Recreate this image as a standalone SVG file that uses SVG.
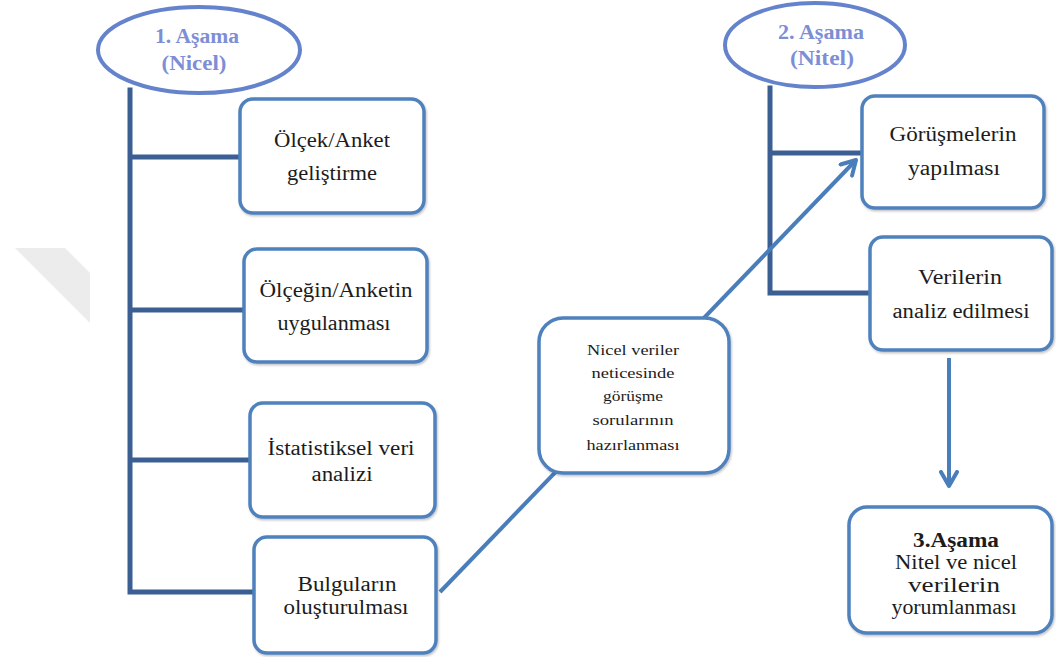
<svg xmlns="http://www.w3.org/2000/svg" width="1056" height="657" viewBox="0 0 1056 657" font-family="'Liberation Serif', 'DejaVu Serif', serif">
  <defs>
    <style>
      .box { fill: #ffffff; stroke: #4f81bd; stroke-width: 3.5; filter: url(#shadow); }
      .oval { fill: #ffffff; stroke: #6483cc; stroke-width: 4; }
      .trunk { fill: none; stroke: #3b5f93; stroke-width: 5; stroke-linejoin: miter; stroke-linecap: square; }
      .flow { fill: none; stroke: #4a7ebb; stroke-width: 4; }
      text { font-family: 'Liberation Serif', 'DejaVu Serif', serif; }
      .t { font-size: 20px; fill: #1c1c1c; text-anchor: middle; }
      .ts { font-size: 15px; fill: #1c1c1c; text-anchor: middle; }
      .tb { font-weight: bold; }
      .phase { font-size: 20px; font-weight: bold; fill: #7d8ed6; text-anchor: middle; }
    </style>
    <filter id="shadow" x="-10%" y="-10%" width="120%" height="120%">
      <feDropShadow dx="1" dy="1.5" stdDeviation="1.2" flood-color="#000000" flood-opacity="0.25"/>
    </filter>
    <marker id="head" viewBox="0 0 10 10" refX="8" refY="5" markerWidth="5" markerHeight="5" orient="auto" markerUnits="strokeWidth">
      <path d="M1,1 L8,5 L1,9" fill="none" stroke="#4a7ebb" stroke-width="2" stroke-linecap="round" stroke-linejoin="round"/>
    </marker>
  </defs>

  <rect width="1056" height="657" fill="#ffffff"/>

  <!-- faint background mark -->
  <polygon points="15,248 65,248 90,273 90,323" fill="#ececec"/>

  <!-- connectors -->
  <g id="connectors">
    <!-- stage 1 trunk with branches -->
    <path class="trunk" d="M130,90 V592 H254 M130,157 H240 M130,310 H244 M130,460 H250"/>
    <!-- stage 2 trunk with branches -->
    <path class="trunk" d="M770,88 V293 H870 M770,153 H862"/>
    <!-- findings to interviews -->
    <line class="flow" x1="440" y1="592" x2="856" y2="160" marker-end="url(#head)"/>
    <!-- analysis to interpretation -->
    <line class="flow" x1="949" y1="358" x2="949" y2="486" marker-end="url(#head)"/>
  </g>

  <!-- stage 1 -->
  <g id="phase1">
    <ellipse class="oval" cx="199" cy="50" rx="101" ry="43"/>
    <text class="phase" x="197" y="43" textLength="84" lengthAdjust="spacingAndGlyphs">1. Aşama</text>
    <text class="phase" x="194" y="70" textLength="65" lengthAdjust="spacingAndGlyphs">(Nicel)</text>
  </g>

  <g id="olcek-gelistirme">
    <rect class="box" x="240" y="99" width="184" height="114" rx="13"/>
    <text class="t" x="332" y="147" textLength="116" lengthAdjust="spacingAndGlyphs">Ölçek/Anket</text>
    <text class="t" x="332" y="180" textLength="90" lengthAdjust="spacingAndGlyphs">geliştirme</text>
  </g>

  <g id="olcek-uygulama">
    <rect class="box" x="244" y="249" width="183" height="113" rx="13"/>
    <text class="t" x="336" y="297" textLength="153" lengthAdjust="spacingAndGlyphs">Ölçeğin/Anketin</text>
    <text class="t" x="334" y="330" textLength="113" lengthAdjust="spacingAndGlyphs">uygulanması</text>
  </g>

  <g id="istatistik">
    <rect class="box" x="250" y="403" width="185" height="114" rx="13"/>
    <text class="t" x="341" y="455" textLength="147" lengthAdjust="spacingAndGlyphs">İstatistiksel veri</text>
    <text class="t" x="342" y="481" textLength="61" lengthAdjust="spacingAndGlyphs">analizi</text>
  </g>

  <g id="bulgular">
    <rect class="box" x="254" y="537" width="182" height="116" rx="13"/>
    <text class="t" x="347" y="591" textLength="99" lengthAdjust="spacingAndGlyphs">Bulguların</text>
    <text class="t" x="346" y="614" textLength="125" lengthAdjust="spacingAndGlyphs">oluşturulması</text>
  </g>

  <!-- bridge between stages -->
  <g id="soru-hazirlama">
    <rect class="box" x="539" y="318" width="190" height="155" rx="24"/>
    <text class="ts" x="633" y="355" textLength="92" lengthAdjust="spacingAndGlyphs">Nicel veriler</text>
    <text class="ts" x="633" y="378" textLength="83" lengthAdjust="spacingAndGlyphs">neticesinde</text>
    <text class="ts" x="633" y="401" textLength="60" lengthAdjust="spacingAndGlyphs">görüşme</text>
    <text class="ts" x="633" y="425" textLength="81" lengthAdjust="spacingAndGlyphs">sorularının</text>
    <text class="ts" x="633" y="450" textLength="93" lengthAdjust="spacingAndGlyphs">hazırlanması</text>
  </g>

  <!-- stage 2 -->
  <g id="phase2">
    <ellipse class="oval" cx="815" cy="45" rx="90" ry="42"/>
    <text class="phase" x="821" y="39" textLength="86" lengthAdjust="spacingAndGlyphs">2. Aşama</text>
    <text class="phase" x="822" y="65" textLength="64" lengthAdjust="spacingAndGlyphs">(Nitel)</text>
  </g>

  <g id="gorusmeler">
    <rect class="box" x="862" y="96" width="182" height="112" rx="13"/>
    <text class="t" x="953" y="141" textLength="127" lengthAdjust="spacingAndGlyphs">Görüşmelerin</text>
    <text class="t" x="954" y="175" textLength="92" lengthAdjust="spacingAndGlyphs">yapılması</text>
  </g>

  <g id="veri-analizi">
    <rect class="box" x="870" y="237" width="182" height="113" rx="13"/>
    <text class="t" x="960" y="284" textLength="84" lengthAdjust="spacingAndGlyphs">Verilerin</text>
    <text class="t" x="961" y="318" textLength="137" lengthAdjust="spacingAndGlyphs">analiz edilmesi</text>
  </g>

  <!-- stage 3 -->
  <g id="phase3">
    <rect class="box" x="849" y="507" width="203" height="126" rx="18"/>
    <text class="t tb" x="956" y="547" textLength="86" lengthAdjust="spacingAndGlyphs">3.Aşama</text>
    <text class="t" x="956" y="569" textLength="122" lengthAdjust="spacingAndGlyphs">Nitel ve nicel</text>
    <text class="t" x="954" y="592" textLength="92" lengthAdjust="spacingAndGlyphs">verilerin</text>
    <text class="t" x="954" y="614" textLength="125" lengthAdjust="spacingAndGlyphs">yorumlanması</text>
  </g>
</svg>
